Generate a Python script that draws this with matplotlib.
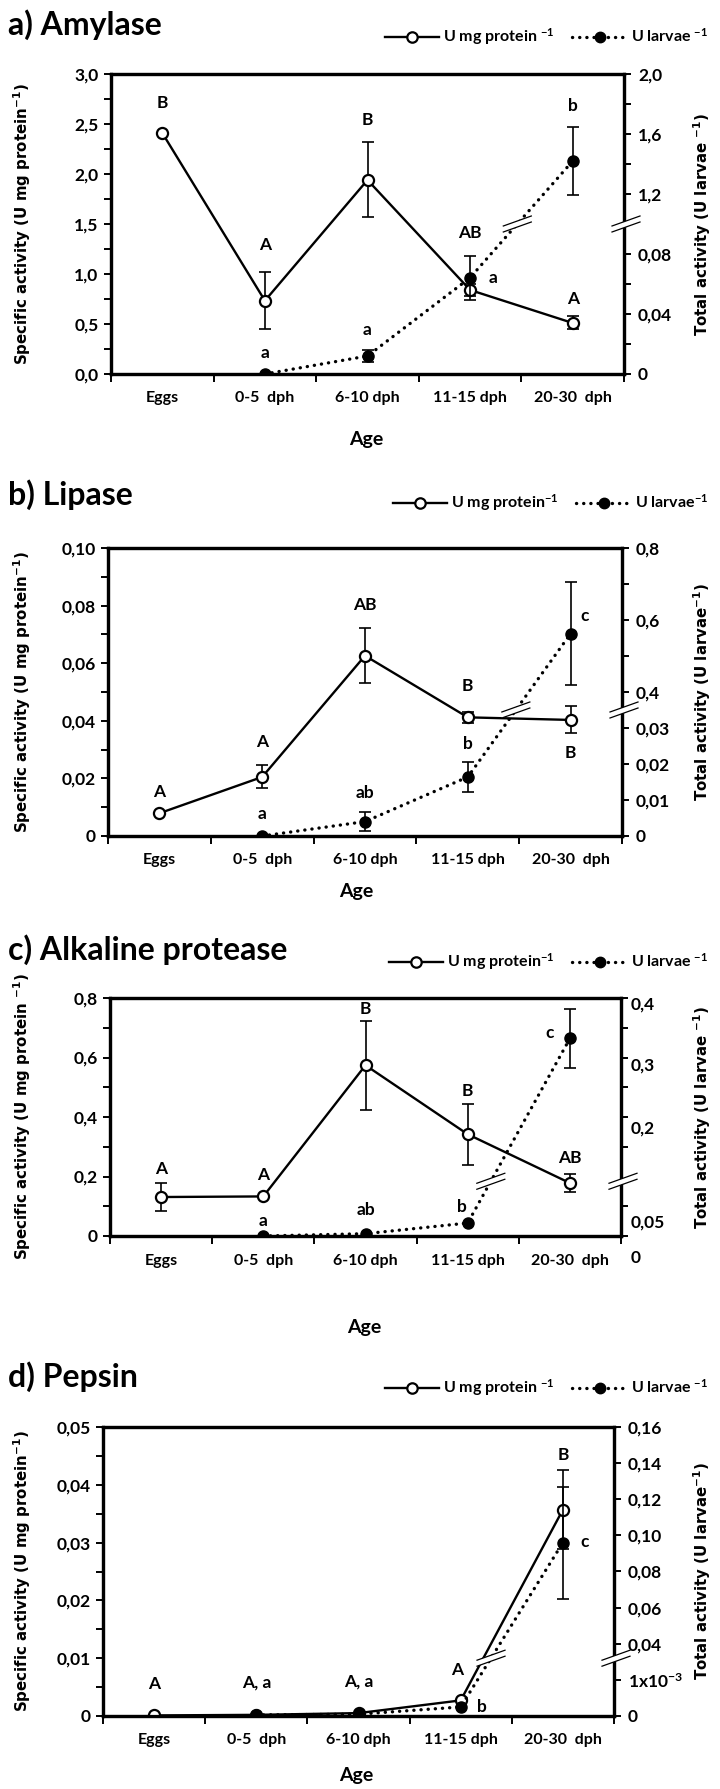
import numpy as np
import matplotlib
matplotlib.use("Agg")
import matplotlib.pyplot as plt
from matplotlib.lines import Line2D
from matplotlib.transforms import blended_transform_factory, ScaledTranslation

plt.rcParams['font.family'] = ['Lato', 'DejaVu Sans']
plt.rcParams['font.weight'] = 'bold'
plt.rcParams['mathtext.default'] = 'regular'

# ---------------------------------------------------------------- data
ages = ['Eggs', '0-5  dph', '6-10 dph', '11-15 dph', '20-30  dph']

# a) Amylase
amy_spec = [2.41, 0.733, 1.94, 0.84, 0.51]
amy_spec_err = [0.0, 0.283, 0.375, 0.06, 0.065]
amy_tot = [np.nan, 0.0, 0.012, 0.0642, 1.42]
amy_tot_err = [0.0, 0.0, 0.004, 0.0147, 0.225]
amy_let_spec = ['B', 'A', 'B', 'AB', 'A']
amy_let_tot = ['', 'a', 'a', 'a', 'b']
amy_left_ticks = [0.0, 0.5, 1.0, 1.5, 2.0, 2.5, 3.0]
amy_left_labels = ['0,0', '0,5', '1,0', '1,5', '2,0', '2,5', '3,0']
amy_right_ticks = [0.0, 0.04, 0.08, 1.2, 1.6, 2.0]
amy_right_labels = ['0', '0,04', '0,08', '1,2', '1,6', '2,0']
amy_right_minor = [0.02, 0.06, 1.4, 1.8]

# b) Lipase
lip_spec = [0.0079, 0.0205, 0.0626, 0.0412, 0.0403]
lip_spec_err = [0.0, 0.004, 0.0095, 0.002, 0.0047]
lip_tot = [np.nan, 0.0, 0.004, 0.0164, 0.562]
lip_tot_err = [0.0, 0.0, 0.0027, 0.0042, 0.143]
lip_let_spec = ['A', 'A', 'AB', 'B', 'B']
lip_let_tot = ['', 'a', 'ab', 'b', 'c']
lip_left_ticks = [0.0, 0.02, 0.04, 0.06, 0.08, 0.10]
lip_left_labels = ['0', '0,02', '0,04', '0,06', '0,08', '0,10']
lip_right_ticks = [0.0, 0.01, 0.02, 0.03, 0.4, 0.6, 0.8]
lip_right_labels = ['0', '0,01', '0,02', '0,03', '0,4', '0,6', '0,8']
lip_right_minor = [0.5, 0.7]

# c) Alkaline protease
alk_spec = [0.131, 0.133, 0.574, 0.342, 0.178]
alk_spec_err = [0.046, 0.0, 0.15, 0.102, 0.03]
alk_tot = [np.nan, 0.0, 0.0039, 0.0218, 0.332]
alk_tot_err = [0.0, 0.0, 0.0, 0.0, 0.049]
alk_let_spec = ['A', 'A', 'B', 'B', 'AB']
alk_let_tot = ['', 'a', 'ab', 'b', 'c']
alk_left_ticks = [0.0, 0.2, 0.4, 0.6, 0.8]
alk_left_labels = ['0', '0,2', '0,4', '0,6', '0,8']
alk_right_ticks = [0.0, 0.05, 0.2, 0.3, 0.4]
alk_right_labels = ['0', '0,05', '0,2', '0,3', '0,4']
alk_right_minor = [0.15, 0.25, 0.35]

# d) Pepsin
pep_spec = [0.0001, 0.0002, 0.0005, 0.0027, 0.0357]
pep_spec_err = [0.0, 0.0, 0.0, 0.0, 0.0068]
pep_tot = [np.nan, 0.00003, 0.00005, 0.00025, 0.096]
pep_tot_err = [0.0, 0.0, 0.0, 0.0, 0.031]
pep_let_spec = ['A', 'A, a', 'A, a', 'A', 'B']
pep_let_tot = ['', '', '', 'b', 'c']
pep_left_ticks = [0.0, 0.01, 0.02, 0.03, 0.04, 0.05]
pep_left_labels = ['0', '0,01', '0,02', '0,03', '0,04', '0,05']
pep_right_ticks = [0.0, 0.001, 0.04, 0.06, 0.08, 0.10, 0.12, 0.14, 0.16]
pep_right_labels = ['0', '1x10$^{-3}$', '0,04', '0,06', '0,08', '0,10',
                    '0,12', '0,14', '0,16']
pep_right_minor = []

# ---------------------------------------------------------------- figure
W, H = 720, 1789
fig = plt.figure(figsize=(W / 100, H / 100), dpi=100)
PT = 0.72  # points per pixel at 100 dpi
TICK_FS = 12.5
LET_FS = 12.5
MS = 8


def fx(px):
    return px / W


def fy(py):
    return 1 - py / H


def broken_scale(xp, fp):
    """Piecewise-linear forward/inverse pair used for a broken secondary axis."""
    xp = np.asarray(xp, float)
    fp = np.asarray(fp, float)

    def _map(v, a, b):
        v = np.asarray(v, float)
        out = np.interp(v, a, b)
        s0 = (b[1] - b[0]) / (a[1] - a[0])
        s1 = (b[-1] - b[-2]) / (a[-1] - a[-2])
        out = np.where(v < a[0], b[0] + (v - a[0]) * s0, out)
        out = np.where(v > a[-1], b[-1] + (v - a[-1]) * s1, out)
        return out

    return (lambda v: _map(v, xp, fp)), (lambda f: _map(f, fp, xp))


def break_mark(ax, cx, cy, wpx, hpx, half=14, rise=5, gap=3.0):
    """Two slanted parallel strokes with a white gap, centred at axes coords."""
    dx = half / wpx
    dy = rise / hpx
    g = gap / hpx
    xs = [cx - dx, cx + dx]
    poly_x = [cx - dx, cx + dx, cx + dx, cx - dx]
    poly_y = [cy - dy + g, cy + dy + g, cy + dy - g, cy - dy - g]
    ax.fill(poly_x, poly_y, color='white', transform=ax.transAxes,
            clip_on=False, zorder=20, lw=0)
    for s in (+g, -g):
        ax.plot(xs, [cy - dy + s, cy + dy + s], color='k', lw=0.9,
                transform=ax.transAxes, clip_on=False, zorder=21)


def panel(rect, title, title_y, legend_y, legend_labels, spec, spec_err,
          tot, tot_err, knots, break_val, left_ticks, left_labels,
          left_minor_step, right_ticks, right_labels, right_minor,
          let_spec, let_tot, let_place, ylab_l, ylab_r, ticklab_y, age_y,
          age_x, right_label_shift=None):
    l, t, r, b = rect
    wpx, hpx = r - l, b - t
    ax = fig.add_axes([fx(l), fy(b), fx(r) - fx(l), (b - t) / H])
    ax2 = ax.twinx()
    fwd, inv = broken_scale(*knots)
    ax2.set_yscale('function', functions=(fwd, inv))

    x = np.arange(len(ages))
    ax.set_xlim(-0.5, len(ages) - 0.5)
    ax.set_ylim(left_ticks[0], left_ticks[-1])
    ax2.set_ylim(knots[0][0], knots[0][-1])

    for sp in list(ax.spines.values()) + list(ax2.spines.values()):
        sp.set_linewidth(2.3)
        sp.set_color('k')

    # left axis ticks
    ax.set_yticks(left_ticks, left_labels)
    ax.set_yticks(np.arange(left_ticks[0], left_ticks[-1] + 1e-9,
                            left_minor_step), minor=True)
    ax.tick_params(axis='y', which='both', direction='out', length=5,
                   width=1.4, labelsize=TICK_FS, pad=4)
    # x axis: boundaries carry marks, centres carry text
    ax.set_xticks(x, [])
    ax.set_xticks(np.arange(-0.5, len(ages)), minor=True)
    ax.tick_params(axis='x', which='major', length=0)
    ax.tick_params(axis='x', which='minor', direction='out', length=6,
                   width=1.4)
    tr = blended_transform_factory(ax.transData, fig.transFigure)
    for i, lab in enumerate(ages):
        ax.text(i, fy(ticklab_y), lab, transform=tr, fontsize=11.5,
                ha='center', va='center')

    # right axis ticks
    ax2.tick_params(axis='y', which='both', direction='out', length=5,
                    width=1.4, labelsize=TICK_FS, pad=5)
    ax2.set_yticks(right_minor, minor=True)
    if right_label_shift is None:
        ax2.set_yticks(right_ticks, right_labels)
    else:
        ax2.set_yticks(right_ticks, [''] * len(right_ticks))
        trr = blended_transform_factory(ax2.transAxes, ax2.transData)
        for v, lab, sh in zip(right_ticks, right_labels, right_label_shift):
            off = ScaledTranslation(10 / 100, -sh / 100, fig.dpi_scale_trans)
            ax2.text(1.0, v, lab, transform=trr + off, fontsize=TICK_FS,
                     ha='left', va='center', clip_on=False)

    # specific activity: solid line, open circles
    spec = np.asarray(spec, float)
    spec_err = np.asarray(spec_err, float)
    ax.plot(x, spec, '-', color='k', lw=1.7, zorder=3)
    m = spec_err > 0
    ax.errorbar(x[m], spec[m], yerr=spec_err[m], fmt='none', ecolor='k',
                elinewidth=1.2, capsize=4, capthick=1.2, zorder=2)
    ax.plot(x, spec, 'o', ms=MS, mfc='white', mec='k', mew=1.6, zorder=4)

    # total activity: dotted line, filled circles
    tot = np.asarray(tot, float)
    tot_err = np.asarray(tot_err, float)
    ok = ~np.isnan(tot)
    ax2.plot(x[ok], tot[ok], color='k', lw=2.4, ls=(0, (0.05, 2.1)),
             dash_capstyle='round', zorder=3)
    m2 = ok & (tot_err > 0)
    ax2.errorbar(x[m2], tot[m2], yerr=tot_err[m2], fmt='none', ecolor='k',
                 elinewidth=1.2, capsize=4, capthick=1.2, zorder=2)
    ax2.plot(x[ok], tot[ok], 'o', ms=MS, mfc='k', mec='k', zorder=4)

    # significance letters
    for i in range(len(ages)):
        for which, lets, vals, errs, axx in (
                ('s', let_spec, spec, spec_err, ax),
                ('t', let_tot, tot, tot_err, ax2)):
            txt = lets[i]
            if not txt:
                continue
            anchor, dxp, dyp = let_place[(which, i)]
            v = vals[i]
            if anchor == 'top':
                v = v + errs[i]
            elif anchor == 'bot':
                v = v - errs[i]
            axx.annotate(txt, (i, v), xytext=(dxp * PT, dyp * PT),
                         textcoords='offset points', ha='center',
                         va='center', fontsize=LET_FS, zorder=10)

    # axis break on the secondary scale and on the dotted series
    fb = float(fwd(break_val))
    break_mark(ax2, 1.0 + 2 / wpx, fb, wpx, hpx)
    y3, y4 = fwd(tot[3]), fwd(tot[4])
    xc = 3 + (fb - y3) / (y4 - y3)
    break_mark(ax2, (xc + 0.5) / len(ages), fb, wpx, hpx)

    # titles, axis names, legend
    fig.text(fx(8), fy(title_y), title, fontsize=23, ha='left',
             va='center')
    fig.text(fx(age_x), fy(age_y), 'Age', fontsize=14, ha='center',
             va='center')
    fig.text(fx(22), fy((t + b) / 2), ylab_l, rotation=90, ha='center',
             va='center', family=['DejaVu Sans'], fontsize=10.8)
    fig.text(fx(702), fy((t + b) / 2), ylab_r, rotation=90, ha='center',
             va='center', family=['DejaVu Sans'], fontsize=10.8)
    h1 = Line2D([], [], color='k', lw=1.7, marker='o', ms=7.5, mfc='white',
                mec='k', mew=1.6)
    h2 = Line2D([], [], color='k', lw=2.4, ls=(0, (0.05, 2.1)),
                dash_capstyle='round', marker='o', ms=7.5, mfc='k', mec='k')
    fig.legend([h1, h2], legend_labels, loc='center right',
               bbox_to_anchor=(fx(708), fy(legend_y)), ncol=2,
               frameon=False, fontsize=11.5, handlelength=3.4,
               handletextpad=0.25, columnspacing=1.1, borderpad=0,
               borderaxespad=0)
    return ax, ax2


# a) Amylase
panel((111, 74, 624, 374), 'a) Amylase', 25, 37,
      ['U mg protein $^{-1}$', 'U larvae $^{-1}$'],
      amy_spec, amy_spec_err, amy_tot, amy_tot_err,
      ([0.0, 0.1, 1.0, 2.0], [0.0, 0.5, 0.500001, 1.0]), 1.0,
      amy_left_ticks, amy_left_labels, 0.25,
      amy_right_ticks, amy_right_labels, amy_right_minor,
      amy_let_spec, amy_let_tot,
      {('s', 0): ('pt', 0, 30), ('s', 1): ('top', 0, 27),
       ('s', 2): ('top', 0, 22), ('s', 3): ('top', 0, 51),
       ('s', 4): ('top', 0, 18), ('t', 1): ('pt', 0, 21),
       ('t', 2): ('top', 0, 20), ('t', 3): ('pt', 23, 0),
       ('t', 4): ('top', 0, 21)},
      'Specific activity (U mg protein$^{-1}$)',
      'Total activity (U larvae $^{-1}$)', 398, 440, 366)

# b) Lipase
panel((108, 548, 622, 836), 'b) Lipase', 495, 503,
      ['U mg protein$^{-1}$', 'U larvae$^{-1}$'],
      lip_spec, lip_spec_err, lip_tot, lip_tot_err,
      ([0.0, 0.035, 0.35, 0.8], [0.0, 0.4375, 0.437501, 1.0]), 0.35,
      lip_left_ticks, lip_left_labels, 0.01,
      lip_right_ticks, lip_right_labels, lip_right_minor,
      lip_let_spec, lip_let_tot,
      {('s', 0): ('pt', 0, 21), ('s', 1): ('top', 0, 23),
       ('s', 2): ('top', 0, 23), ('s', 3): ('top', 0, 26),
       ('s', 4): ('bot', 0, -20), ('t', 1): ('pt', 0, 22),
       ('t', 2): ('top', 0, 19), ('t', 3): ('top', 0, 18),
       ('t', 4): ('pt', 14, 18)},
      'Specific activity (U mg protein$^{-1}$)',
      'Total activity (U larvae$^{-1}$)', 860, 892, 356)

# c) Alkaline protease
panel((110, 998, 621, 1236), 'c) Alkaline protease', 950, 962,
      ['U mg protein$^{-1}$', 'U larvae $^{-1}$'],
      alk_spec, alk_spec_err, alk_tot, alk_tot_err,
      ([0.0, 0.4], [0.0, 1.0]), 0.092,
      alk_left_ticks, alk_left_labels, 0.1,
      alk_right_ticks, alk_right_labels, alk_right_minor,
      alk_let_spec, alk_let_tot,
      {('s', 0): ('top', 0, 14), ('s', 1): ('pt', 0, 21),
       ('s', 2): ('top', 0, 12), ('s', 3): ('top', 0, 13),
       ('s', 4): ('top', 0, 16), ('t', 1): ('pt', 0, 15),
       ('t', 2): ('pt', 0, 24), ('t', 3): ('pt', -6, 16),
       ('t', 4): ('pt', -20, 5)},
      'Specific activity (U mg protein $^{-1}$)',
      'Total activity (U larvae $^{-1}$)', 1261, 1327, 364,
      right_label_shift=[22, 16, 12, 8, 7])

# d) Pepsin
panel((103, 1427, 614, 1716), 'd) Pepsin', 1377, 1388,
      ['U mg protein $^{-1}$', 'U larvae $^{-1}$'],
      pep_spec, pep_spec_err, pep_tot, pep_tot_err,
      ([0.0, 0.0016, 0.032, 0.16], [0.0, 0.2, 0.200001, 1.0]), 0.032,
      pep_left_ticks, pep_left_labels, 0.005,
      pep_right_ticks, pep_right_labels, pep_right_minor,
      pep_let_spec, pep_let_tot,
      {('s', 0): ('pt', 0, 31), ('s', 1): ('pt', 0, 32),
       ('s', 2): ('pt', 0, 32), ('s', 3): ('pt', -4, 30),
       ('s', 4): ('top', 0, 15), ('t', 3): ('pt', 21, 0),
       ('t', 4): ('pt', 22, 1)},
      'Specific activity (U mg protein$^{-1}$)',
      'Total activity (U larvae$^{-1}$)', 1740, 1775, 356)

fig.savefig('out.png', dpi=100)
